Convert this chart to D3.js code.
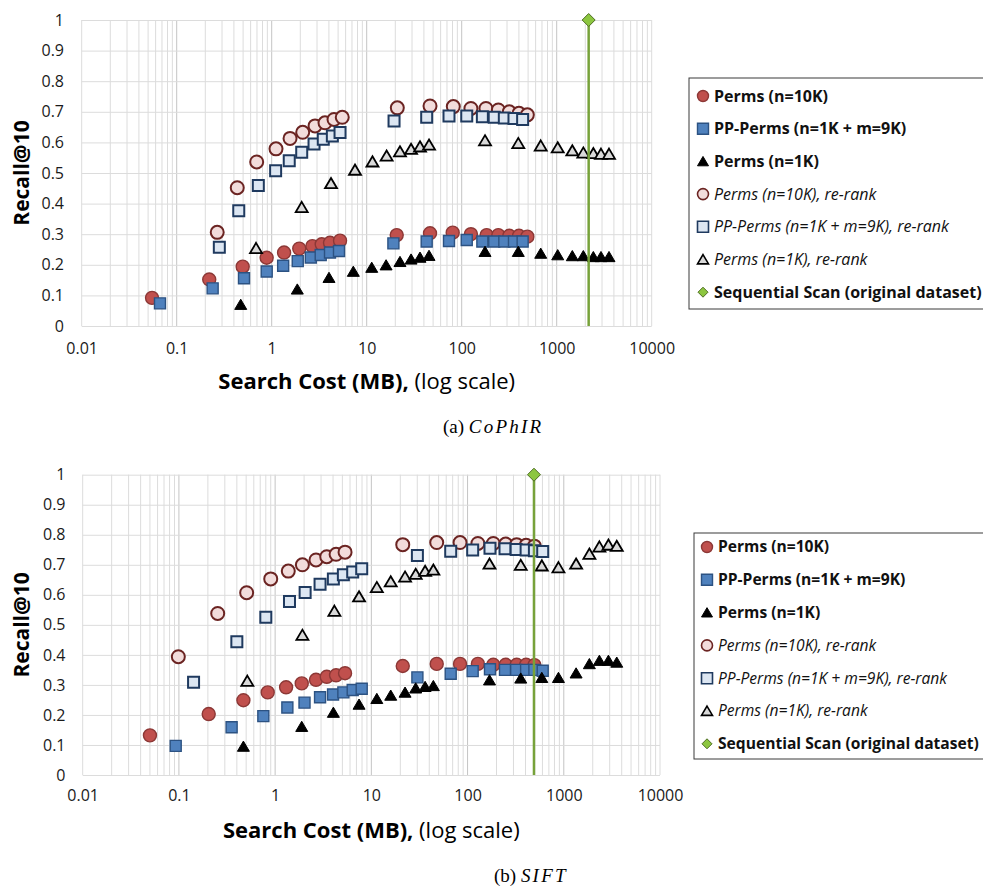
<!DOCTYPE html>
<html>
<head>
<meta charset="utf-8">
<script src="https://cdn.jsdelivr.net/npm/d3@7"></script>
<style>
  body { margin: 0; background: #fff; }
  svg { display: block; }
</style>
</head>
<body>
<svg width="983" height="887"></svg>
<script>
// Axis ticks
const xTicks = [0.01, 0.1, 1, 10, 100, 1000, 10000];
const xTickLabels = ["0.01", "0.1", "1", "10", "100", "1000", "10000"];
const yTicks = [0, 0.1, 0.2, 0.3, 0.4, 0.5, 0.6, 0.7, 0.8, 0.9, 1];
const yTickLabels = ["0", "0.1", "0.2", "0.3", "0.4", "0.5", "0.6", "0.7", "0.8", "0.9", "1"];

const seriesNames = ["Perms (n=10K)", "PP-Perms (n=1K + m=9K)", "Perms (n=1K)",
  "Perms (n=10K), re-rank", "PP-Perms (n=1K + m=9K), re-rank", "Perms (n=1K), re-rank",
  "Sequential Scan (original dataset)"];

// (a) CoPhIR  -- [search cost MB, recall@10]
const cophirPerms10K = [[0.055,0.092],[0.22,0.152],[0.495,0.194],[0.885,0.223],[1.35,0.240],[1.95,0.253],[2.68,0.261],[3.36,0.267],[4.11,0.272],[5.24,0.279],[20.7,0.297],[46.4,0.303],[80.4,0.305],[125,0.300],[183,0.297],[243,0.297],[317,0.295],[401,0.295],[491,0.292]];
const cophirPPPerms = [[0.0667,0.074],[0.239,0.123],[0.511,0.156],[0.886,0.178],[1.32,0.197],[1.88,0.212],[2.58,0.224],[3.28,0.232],[4.11,0.240],[5.11,0.245],[19.1,0.270],[42.8,0.276],[73.5,0.278],[113,0.281],[165,0.276],[220,0.276],[281,0.276],[355,0.276],[438,0.276]];
const cophirPerms1K = [[0.472,0.070],[1.86,0.120],[4.01,0.158],[7.23,0.178],[11.3,0.191],[16.0,0.199],[22.4,0.210],[29.3,0.218],[36.4,0.224],[45.3,0.230],[176,0.243],[394,0.243],[679,0.237],[1025,0.232],[1460,0.229],[1907,0.229],[2430,0.226],[2925,0.226],[3553,0.226]];
const cophirPerms10KRerank = [[0.267,0.306],[0.434,0.452],[0.695,0.536],[1.11,0.579],[1.56,0.613],[2.12,0.633],[2.86,0.654],[3.64,0.664],[4.53,0.675],[5.53,0.682],[21.0,0.713],[46.4,0.719],[81.6,0.717],[125,0.711],[180,0.711],[243,0.706],[317,0.700],[401,0.695],[491,0.690]];
const cophirPPPermsRerank = [[0.281,0.257],[0.45,0.377],[0.723,0.459],[1.10,0.507],[1.53,0.540],[2.07,0.568],[2.79,0.595],[3.49,0.610],[4.35,0.621],[5.24,0.632],[19.4,0.670],[42.8,0.682],[73.5,0.686],[113,0.686],[165,0.684],[220,0.682],[281,0.680],[355,0.678],[438,0.675]];
const cophirPerms1KRerank = [[0.684,0.254],[2.07,0.388],[4.21,0.466],[7.53,0.510],[11.5,0.537],[16.2,0.556],[22.4,0.570],[29.3,0.578],[36.4,0.586],[45.3,0.592],[176,0.606],[394,0.597],[679,0.589],[1025,0.583],[1460,0.573],[1907,0.566],[2430,0.564],[2925,0.562],[3553,0.562]];
const cophirSeqScan = 2170;

// (b) SIFT
const siftPerms10K = [[0.050,0.132],[0.204,0.203],[0.468,0.249],[0.837,0.275],[1.30,0.292],[1.89,0.305],[2.66,0.317],[3.44,0.327],[4.30,0.332],[5.33,0.339],[21.2,0.363],[47.8,0.370],[83.5,0.370],[128,0.370],[185,0.367],[249,0.367],[324,0.367],[406,0.367],[495,0.366]];
const siftPPPerms = [[0.0926,0.097],[0.353,0.159],[0.754,0.196],[1.34,0.225],[2.02,0.241],[2.93,0.259],[4.0,0.268],[5.12,0.275],[6.40,0.283],[7.94,0.287],[30.1,0.325],[66.8,0.337],[113,0.346],[171,0.352],[245,0.350],[320,0.350],[406,0.350],[495,0.350],[604,0.347]];
const siftPerms1K = [[0.468,0.095],[1.89,0.161],[4.03,0.208],[7.45,0.235],[11.4,0.254],[15.9,0.265],[22.4,0.275],[28.9,0.289],[36.2,0.294],[44.1,0.297],[169,0.316],[357,0.322],[591,0.324],[880,0.324],[1343,0.339],[1845,0.370],[2344,0.381],[2910,0.381],[3553,0.375]];
const siftPerms10KRerank = [[0.0986,0.394],[0.253,0.538],[0.506,0.607],[0.900,0.653],[1.37,0.679],[1.92,0.700],[2.66,0.716],[3.44,0.727],[4.30,0.735],[5.33,0.742],[21.2,0.767],[47.8,0.774],[83.5,0.774],[128,0.771],[185,0.771],[249,0.769],[324,0.767],[406,0.765],[495,0.762]];
const siftPPPermsRerank = [[0.142,0.309],[0.400,0.444],[0.80,0.525],[1.41,0.578],[2.05,0.608],[2.93,0.635],[4.03,0.653],[5.12,0.667],[6.40,0.676],[7.94,0.687],[30.1,0.731],[66.8,0.745],[113,0.749],[171,0.755],[245,0.753],[320,0.751],[406,0.749],[495,0.747],[604,0.744]];
const siftPerms1KRerank = [[0.514,0.313],[1.92,0.466],[4.13,0.546],[7.45,0.594],[11.4,0.625],[15.9,0.644],[22.4,0.660],[28.9,0.669],[36.2,0.679],[44.1,0.683],[169,0.703],[357,0.699],[591,0.697],[880,0.691],[1343,0.703],[1845,0.736],[2344,0.760],[2910,0.766],[3553,0.762]];
const siftSeqScan = 490;

// marker look for each series, same order as seriesNames
const styles = [
  { shape: "circle",   size: 13, fill: "#c0504d", stroke: "#8c3836", sw: 1.4, bold: true },
  { shape: "square",   size: 11, fill: "#4f81bd", stroke: "#2c5282", sw: 1.4, bold: true },
  { shape: "triangle", size: 12, fill: "#000",    stroke: "#000",    sw: 1,   bold: true },
  { shape: "circle",   size: 13, fill: "#f2dcdb", stroke: "#6b2422", sw: 2,   bold: false },
  { shape: "square",   size: 11, fill: "#dce6f2", stroke: "#1f3a5f", sw: 2,   bold: false },
  { shape: "triangle", size: 12, fill: "#d9d9d9", stroke: "#000",    sw: 1.8, bold: false },
  { shape: "diamond",  size: 12, fill: "#8cc63f", stroke: "#4f6e24", sw: 1,   bold: true }
];

const font = "'Open Sans', 'Liberation Sans', sans-serif";
const svg = d3.select("svg");

function markerPath(shape, s) {
  const h = s / 2;
  if (shape == "circle") return d3.symbol(d3.symbolCircle, Math.PI * h * h)();
  if (shape == "square") return `M${-h},${-h}H${h}V${h}H${-h}Z`;
  if (shape == "triangle") return `M0,${-h * 0.9}L${h},${h * 0.8}L${-h},${h * 0.8}Z`;
  return `M0,${-h}L${h},0L0,${h}L${-h},0Z`; // diamond
}

function isDecade(d) {
  const l = Math.log10(d);
  return Math.abs(l - Math.round(l)) < 1e-9;
}

function drawPanel(p) {
  const x = d3.scaleLog().domain([0.01, 10000]).range([p.left, p.right]);
  const y = d3.scaleLinear().domain([0, 1]).range([p.bottom, p.top]);
  const g = svg.append("g");

  // vertical grid (minor + decade lines)
  g.append("g").selectAll("line")
    .data(x.ticks())
    .join("line")
    .attr("x1", d => x(d)).attr("x2", d => x(d))
    .attr("y1", p.top).attr("y2", p.bottom)
    .attr("stroke", d => isDecade(d) && d != 0.01 && d != 10000 ? "#c4c4c4" : "#dcdcdc")
    .attr("stroke-width", 1);

  // y axis with horizontal grid lines
  const yAxis = g.append("g")
    .attr("transform", "translate(" + p.left + ",0)")
    .call(d3.axisLeft(y).tickValues(yTicks).tickFormat((d, i) => yTickLabels[i])
      .tickSize(-(p.right - p.left)).tickPadding(p.left - p.yLabelRight));
  yAxis.select(".domain").remove();
  yAxis.selectAll("line").attr("stroke", "#dcdcdc");
  yAxis.selectAll("text")
    .attr("font-family", font).attr("font-size", "16px").attr("fill", "#1a1a1a");

  // x axis labels
  const xAxis = g.append("g")
    .attr("transform", "translate(0," + p.bottom + ")")
    .call(d3.axisBottom(x).tickValues(xTicks).tickFormat((d, i) => xTickLabels[i])
      .tickSize(0).tickPadding(p.xLabelPad));
  xAxis.select(".domain").remove();
  xAxis.selectAll("text")
    .attr("font-family", font).attr("font-size", "16px").attr("fill", "#1a1a1a");

  // series markers
  p.series.forEach((data, i) => {
    const st = styles[i];
    g.append("g").selectAll("path")
      .data(data)
      .join("path")
      .attr("transform", d => "translate(" + x(d[0]) + "," + y(d[1]) + ")")
      .attr("d", markerPath(st.shape, st.size))
      .attr("fill", st.fill)
      .attr("stroke", st.stroke)
      .attr("stroke-width", st.sw);
  });

  // sequential scan: vertical line with a diamond on top
  g.append("line")
    .attr("x1", x(p.seqScan)).attr("x2", x(p.seqScan))
    .attr("y1", y(0)).attr("y2", y(1))
    .attr("stroke", "#77a23a").attr("stroke-width", 2.5);
  g.append("path")
    .attr("transform", "translate(" + x(p.seqScan) + "," + y(1) + ")")
    .attr("d", markerPath("diamond", 13))
    .attr("fill", styles[6].fill).attr("stroke", styles[6].stroke).attr("stroke-width", 1);

  // axis titles
  g.append("text")
    .attr("transform", "translate(22," + (p.top + p.bottom) / 2 + ") rotate(-90)")
    .attr("text-anchor", "middle").attr("dy", "0.35em")
    .attr("font-family", font).attr("font-size", "21px").attr("font-weight", "bold")
    .text("Recall@10");
  const xt = g.append("text")
    .attr("x", (p.left + p.right) / 2).attr("y", p.xTitleY)
    .attr("text-anchor", "middle")
    .attr("font-family", font).attr("font-size", "22px");
  xt.append("tspan").attr("font-weight", "bold").text("Search Cost (MB),");
  xt.append("tspan").text(" (log scale)");

  // legend
  const lg = g.append("g");
  lg.append("rect")
    .attr("x", p.legend.x).attr("y", p.legend.y)
    .attr("width", p.legend.w).attr("height", p.legend.h)
    .attr("fill", "#fff").attr("stroke", "#3a3a3a").attr("stroke-width", 1);
  seriesNames.forEach((name, i) => {
    const st = styles[i];
    const cy = p.legend.row0 + i * p.legend.step;
    lg.append("path")
      .attr("transform", "translate(" + p.legend.mx + "," + cy + ")")
      .attr("d", markerPath(st.shape, st.shape == "diamond" ? 10 : 11))
      .attr("fill", st.fill).attr("stroke", st.stroke)
      .attr("stroke-width", Math.min(st.sw, 1.6));
    lg.append("text")
      .attr("x", p.legend.mx + 11).attr("y", cy).attr("dy", "0.35em")
      .attr("font-family", font).attr("font-size", p.legend.fs + "px")
      .attr("font-weight", st.bold ? "bold" : "normal")
      .attr("font-style", st.bold ? "normal" : "italic")
      .attr("fill", "#111")
      .text(name);
  });

  // sub caption
  const cap = g.append("text")
    .attr("x", p.caption.x).attr("y", p.caption.y)
    .attr("font-family", "'Liberation Serif', 'DejaVu Serif', serif").attr("font-size", "19px");
  cap.append("tspan").text(p.caption.tag + " ");
  cap.append("tspan").attr("font-style", "italic").attr("letter-spacing", "2.2px").text(p.caption.name);
}

drawPanel({
  left: 81.7, right: 651.7, top: 20, bottom: 326,
  yLabelRight: 64, xLabelPad: 17, xTitleY: 389,
  series: [cophirPerms10K, cophirPPPerms, cophirPerms1K, cophirPerms10KRerank, cophirPPPermsRerank, cophirPerms1KRerank],
  seqScan: cophirSeqScan,
  legend: { x: 689, y: 78, w: 296, h: 231, row0: 96, step: 32.7, mx: 703, fs: 16 },
  caption: { x: 443, y: 433, tag: "(a)", name: "CoPhIR" }
});

drawPanel({
  left: 82.7, right: 660, top: 474.7, bottom: 775,
  yLabelRight: 65.5, xLabelPad: 15, xTitleY: 838,
  series: [siftPerms10K, siftPPPerms, siftPerms1K, siftPerms10KRerank, siftPPPermsRerank, siftPerms1KRerank],
  seqScan: siftSeqScan,
  legend: { x: 694, y: 533, w: 292, h: 226, row0: 547, step: 32.8, mx: 707, fs: 15.6 },
  caption: { x: 494, y: 882, tag: "(b)", name: "SIFT" }
});
</script>
</body>
</html>
